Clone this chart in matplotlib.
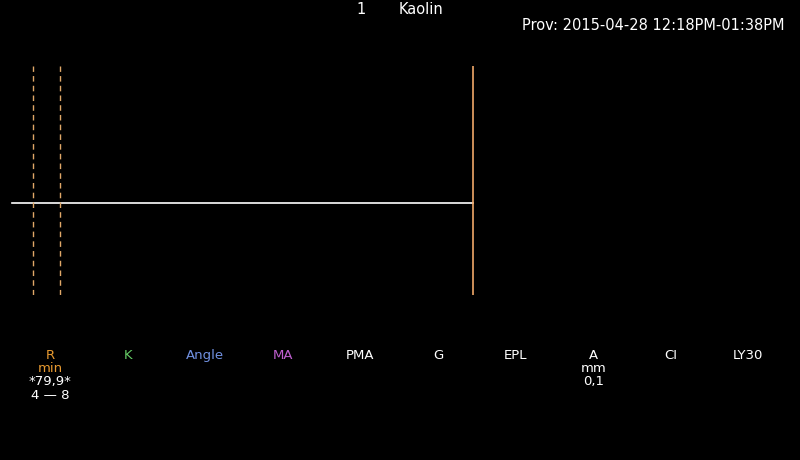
import matplotlib.pyplot as plt

# TEG trace (time in minutes, amplitude in mm)
trace_time = [0.9, 69.2]
trace_amp = [0.0, 0.0]
r_range = [4, 8]
run_end = 69.2

params = ["R", "K", "Angle", "MA", "PMA", "G", "EPL", "A", "CI", "LY30"]
units = ["min", "", "", "", "", "", "", "mm", "", ""]
values = ["*79,9*", "", "", "", "", "", "", "0,1", "", ""]
ranges = ["4 \u2014 8", "", "", "", "", "", "", "", "", ""]
param_colors = ["#e89a30", "#66cc66", "#7090e0", "#c060d0", "white",
                "white", "white", "white", "white", "white"]

plt.rcParams['font.family'] = ['DejaVu Sans']

fig = plt.figure(figsize=(8, 4.602), dpi=100, facecolor="black")
ax = fig.add_axes([0, (460 - 295) / 460, 1, 229 / 460])
ax.set_facecolor("black")
ax.set_xlim(-6 / 6.75, 794 / 6.75)
ax.set_ylim(-46, 68.5)
ax.axis("off")

ax.plot(trace_time, trace_amp, color="white", lw=1.2)
for r in r_range:
    ax.axvline(r, color="#e0a868", lw=1, ls=(0, (4, 3)))
ax.axvline(run_end, color="#f0a868", lw=1.2)

# header
fig.text(361 / 800, 1 - 9 / 460, "1", color="white", fontsize=10.5, ha="center", va="center")
fig.text(421 / 800, 1 - 9 / 460, "Kaolin", color="white", fontsize=10.5, ha="center", va="center")
fig.text(785 / 800, 1 - 25 / 460, "Prov: 2015-04-28 12:18PM-01:38PM", color="white",
         fontsize=10.5, ha="right", va="center")

# parameter table
for i, p in enumerate(params):
    x = (50 + i * 77.6) / 800
    fig.text(x, 1 - 355 / 460, p, color=param_colors[i], fontsize=9.5, ha="center", va="center")
    if units[i]:
        c = param_colors[i] if i == 0 else "white"
        fig.text(x, 1 - 368 / 460, units[i], color=c, fontsize=9.5, ha="center", va="center")
    if values[i]:
        fig.text(x, 1 - 381 / 460, values[i], color="white", fontsize=9.5, ha="center", va="center")
    if ranges[i]:
        fig.text(x, 1 - 395 / 460, ranges[i], color="white", fontsize=9.5, ha="center", va="center")

fig.savefig("out.png", dpi=100, facecolor="black")
